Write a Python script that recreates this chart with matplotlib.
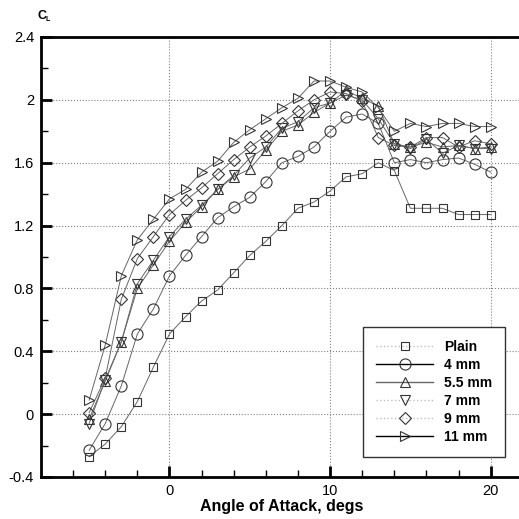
import matplotlib
matplotlib.use("Agg")
import matplotlib.pyplot as plt
from matplotlib.lines import Line2D
from matplotlib.ticker import MultipleLocator, FuncFormatter

plt.rcParams["font.family"] = ["Liberation Sans", "DejaVu Sans"]

# angle of attack, degs
alpha = list(range(-5, 21))

# lift coefficient per configuration
cl_plain = [-0.27, -0.19, -0.08, 0.08, 0.30, 0.51, 0.62, 0.72, 0.79, 0.90, 1.01, 1.10, 1.20,
            1.31, 1.35, 1.42, 1.51, 1.53, 1.60, 1.55, 1.31, 1.31, 1.31, 1.27, 1.27, 1.27]
cl_4mm = [-0.23, -0.06, 0.18, 0.51, 0.67, 0.88, 1.01, 1.13, 1.25, 1.32, 1.38, 1.48, 1.60,
          1.64, 1.70, 1.80, 1.89, 1.91, 1.85, 1.60, 1.62, 1.60, 1.62, 1.63, 1.59, 1.54]
cl_55mm = [-0.03, 0.21, 0.46, 0.80, 0.95, 1.10, 1.22, 1.32, 1.43, 1.51, 1.56, 1.68, 1.80,
           1.84, 1.92, 1.98, 2.06, 2.01, 1.96, 1.72, 1.70, 1.73, 1.70, 1.71, 1.69, 1.70]
cl_7mm = [-0.06, 0.22, 0.46, 0.83, 0.98, 1.13, 1.24, 1.33, 1.43, 1.52, 1.63, 1.70, 1.82,
          1.86, 1.95, 1.98, 2.03, 2.00, 1.88, 1.72, 1.69, 1.75, 1.66, 1.71, 1.69, 1.69]
cl_9mm = [0.01, 0.23, 0.73, 0.99, 1.13, 1.27, 1.36, 1.44, 1.53, 1.62, 1.70, 1.77, 1.85,
          1.93, 2.00, 2.05, 2.04, 1.99, 1.76, 1.71, 1.70, 1.76, 1.76, 1.70, 1.74, 1.72]
cl_11mm = [0.09, 0.44, 0.88, 1.11, 1.24, 1.37, 1.43, 1.54, 1.61, 1.73, 1.81, 1.88, 1.95,
           2.01, 2.12, 2.12, 2.08, 2.05, 1.95, 1.80, 1.85, 1.83, 1.85, 1.85, 1.83, 1.83]

labels = ["Plain", "4 mm", "5.5 mm", "7 mm", "9 mm", "11 mm"]
series = [cl_plain, cl_4mm, cl_55mm, cl_7mm, cl_9mm, cl_11mm]
markers = ["s", "o", "^", "v", "D", ">"]
msizes = [6, 8, 7.5, 7.5, 6.5, 7.5]
# legend line styles as drawn in the key
leg_styles = [(":", "0.75"), ("-", "black"), ("-", "0.4"), (":", "0.75"), (":", "0.75"), ("-", "black")]

W = H = 519
fig = plt.figure(figsize=(W / 100, H / 100), dpi=100)
ax = fig.add_axes([41 / W, 42 / H, 481.8 / W, 440 / H])

for y, m, ms in zip(series, markers, msizes):
    ax.plot(alpha, y, color="0.4", lw=0.7, marker=m, ms=ms,
            mfc="none", mec="0.2", mew=0.8)

ax.set_xlim(-8, 22)
ax.set_ylim(-0.4, 2.4)
ax.xaxis.set_major_locator(MultipleLocator(10))
ax.xaxis.set_minor_locator(MultipleLocator(2))
ax.yaxis.set_major_locator(MultipleLocator(0.4))
ax.yaxis.set_minor_locator(MultipleLocator(0.2))
ax.yaxis.set_major_formatter(FuncFormatter(lambda v, p: f"{v:g}"))
ax.tick_params(which="major", direction="in", length=8, width=2, labelsize=10.5, pad=5)
ax.tick_params(which="minor", direction="in", length=5, width=1)
ax.tick_params(top=False, right=False)
ax.grid(True, which="major", ls=":", color="0.5", lw=0.8)
for s in ["left", "bottom", "top"]:
    ax.spines[s].set_linewidth(2)
ax.spines["right"].set_visible(False)

ax.set_xlabel("Angle of Attack, degs", fontsize=11.5, fontweight="bold", labelpad=1)
fig.text(37 / W, 1 - 19 / H, "C", fontsize=9, fontweight="bold", ha="left", va="baseline")
fig.text(45 / W, 1 - 21 / H, "L", fontsize=5, fontweight="bold", ha="left", va="baseline")

handles = [Line2D([], [], ls=ls, color=c, lw=1, marker=m, ms=ms, mfc="none", mec="0.2", mew=0.8)
           for (ls, c), m, ms in zip(leg_styles, markers, msizes)]
leg = ax.legend(handles, labels, loc="lower left", bbox_to_anchor=(0.668, 0.046),
                bbox_transform=ax.transAxes, fancybox=False, framealpha=1,
                edgecolor="0.2", handlelength=4.1, handletextpad=0.8,
                labelspacing=0.28, borderpad=0.95, borderaxespad=0,
                prop={"weight": "bold", "size": 10})
leg.get_frame().set_linewidth(1)

fig.savefig("out.png", dpi=100)
